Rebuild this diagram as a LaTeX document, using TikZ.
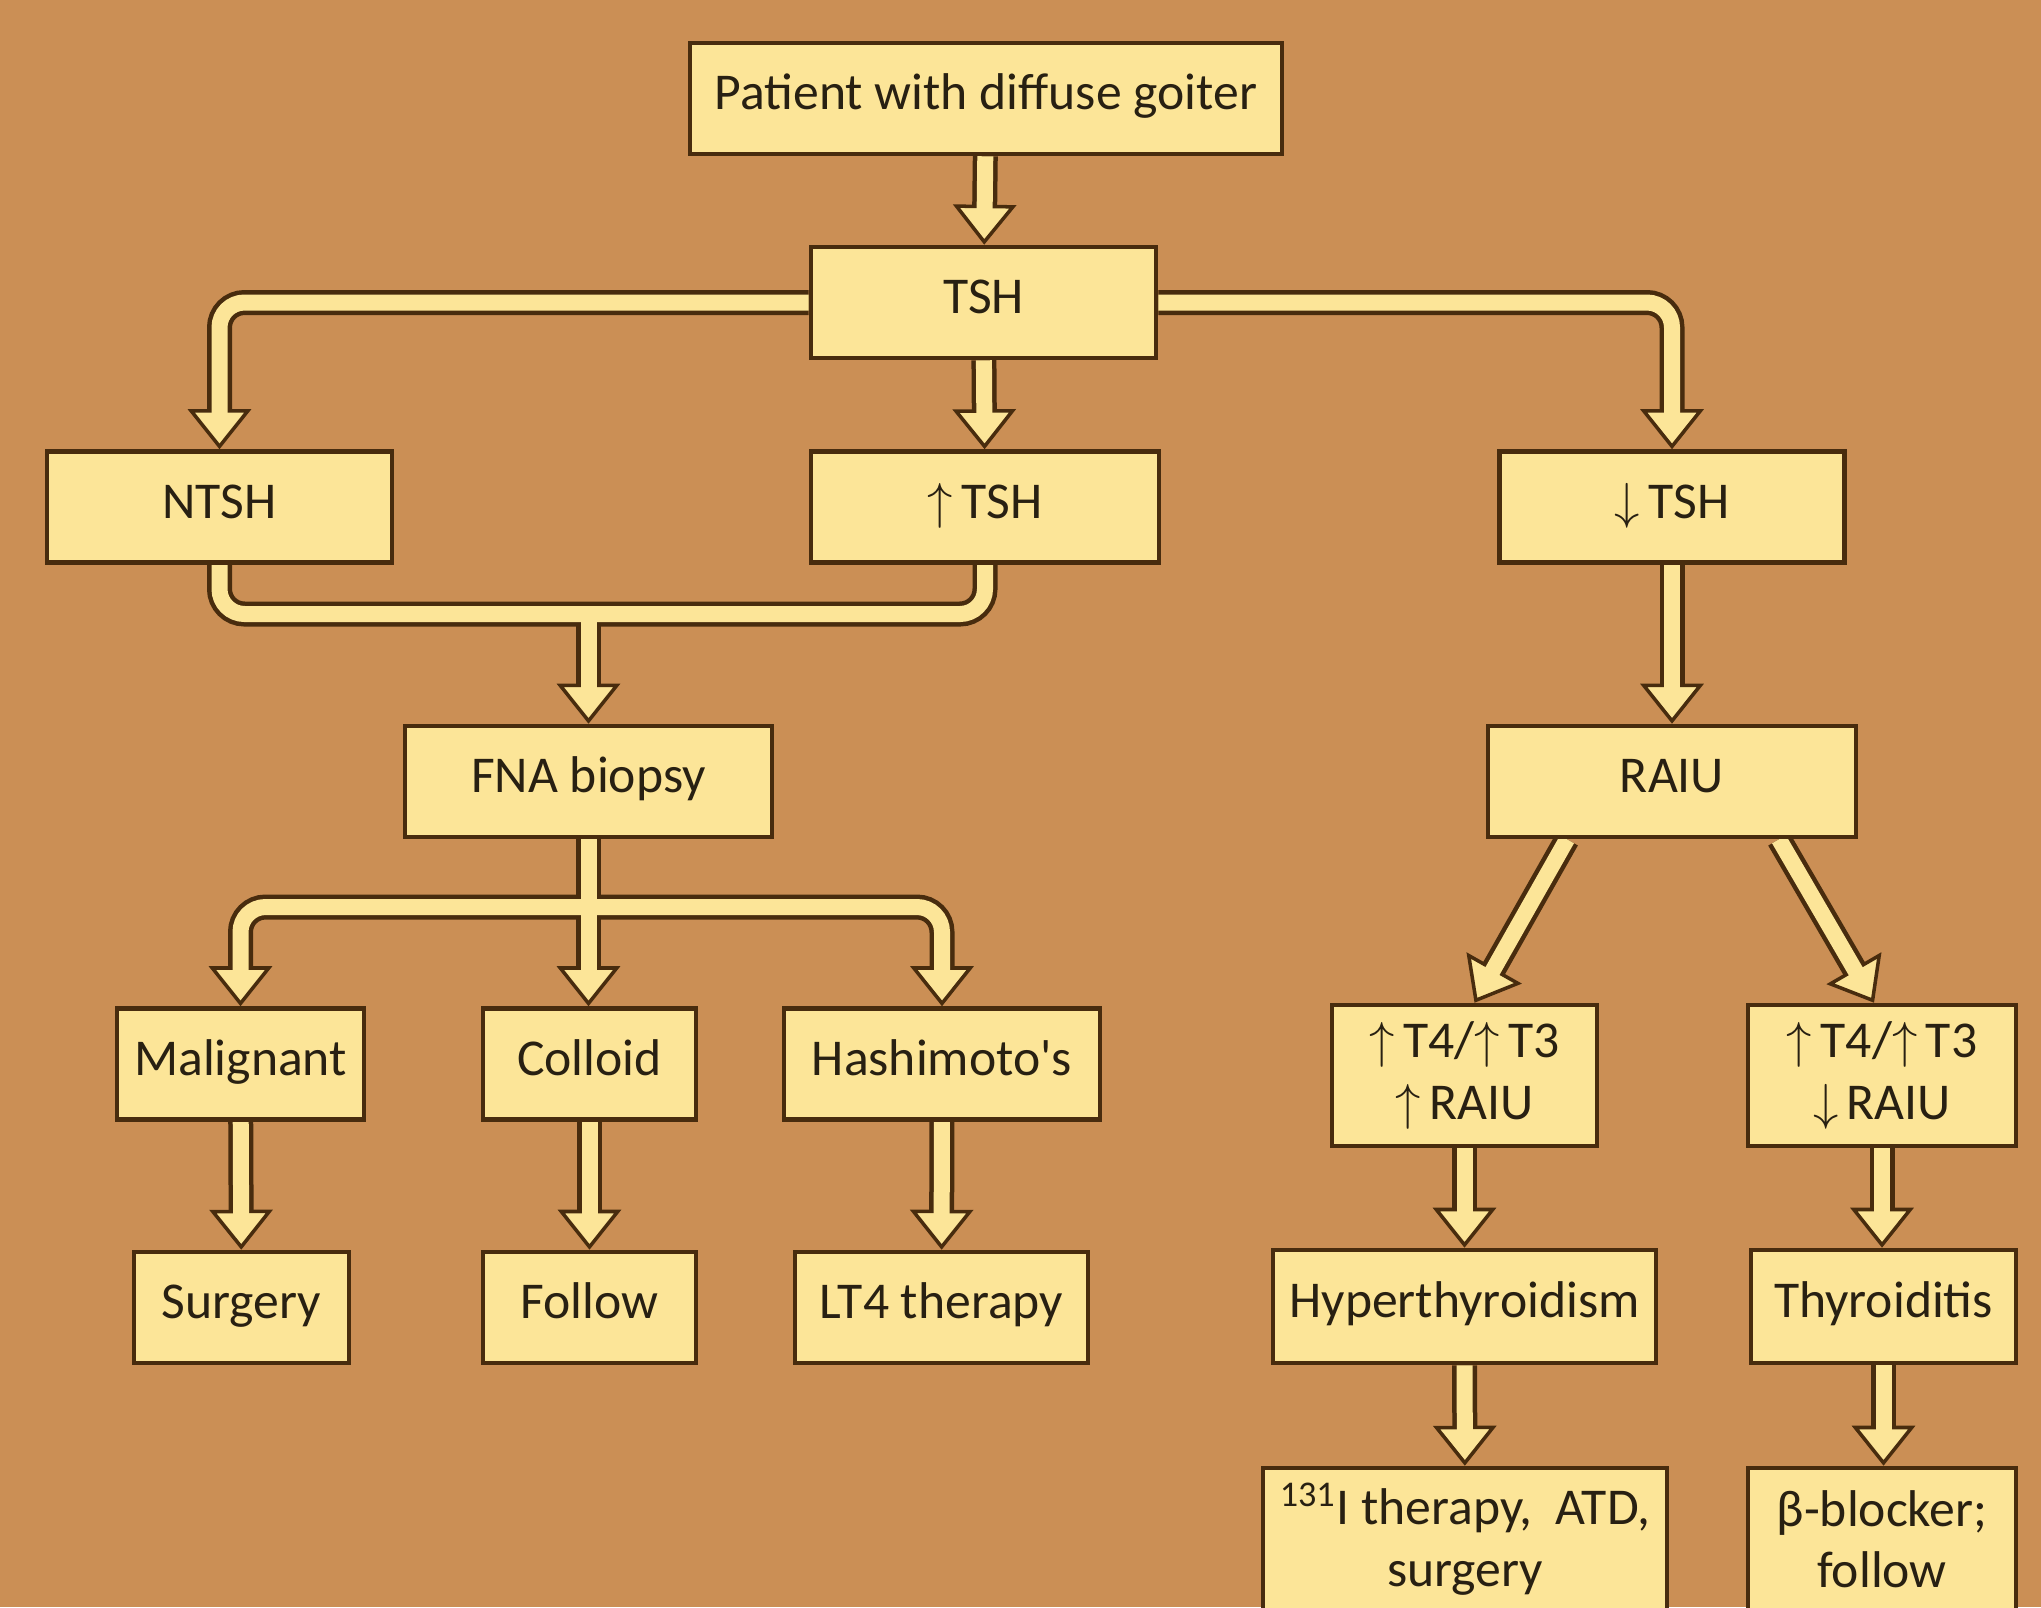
\documentclass[tikz,border=0pt]{standalone}
\usepackage{fontspec}
\setmainfont{Carlito}
\usetikzlibrary{positioning,calc,arrows.meta,backgrounds}
\definecolor{bgbrown}{RGB}{203,143,85}
\definecolor{boxfill}{RGB}{252,229,152}
\definecolor{edgebrown}{RGB}{72,44,14}
\definecolor{inkdark}{RGB}{40,32,18}
\tikzset{
  nbox/.style    = {draw=edgebrown, fill=boxfill, line width=1.3pt, inner sep=2pt,
                    align=center, text=inkdark, minimum height=1.11cm,
                    font=\fontsize{14.7}{17.5}\selectfont},
  sbox/.style    = {nbox, text height=0.75em, text depth=0.1em},
  pipeout/.style = {draw=edgebrown, line width=2.5mm, rounded corners=2.5mm},
  pipein/.style  = {draw=boxfill, line width=1.6mm, rounded corners=2.5mm},
  head/.style    = {-{Triangle[width=6.3mm, length=4mm, fill=boxfill,
                    color=edgebrown, line width=1pt]}},
  headgap/.style = {shorten >=3.4mm},
}
\begin{document}
\begin{tikzpicture}
  \useasboundingbox (0,0) rectangle (20.41,-16.07);
  \begin{scope}[on background layer]
    \fill[bgbrown] (0,0) rectangle (20.41,-16.07);
  \end{scope}
  % top of the tree
  \node[sbox, minimum width=5.92cm] (pat) at (9.86,-0.985) {Patient with diffuse goiter};
  \node[sbox, minimum width=3.45cm] (tsh) at (9.835,-3.025) {TSH};
  \node[sbox, minimum width=3.45cm] (ntsh) at (2.195,-5.07) {NTSH};
  \node[sbox, minimum width=3.48cm] (hitsh) at (9.85,-5.07) {$\uparrow$\,TSH};
  \node[sbox, minimum width=3.45cm] (lotsh) at (16.72,-5.07) {$\downarrow$\,TSH};
  \node[sbox, minimum width=3.67cm] (fna) at (5.885,-7.815) {FNA biopsy};
  \node[sbox, minimum width=3.68cm] (raiu) at (16.72,-7.815) {RAIU};
  % biopsy side
  \node[sbox, minimum width=2.47cm] (malig) at (2.405,-10.64) {Malignant};
  \node[sbox, minimum width=2.13cm] (colloid) at (5.895,-10.64) {Colloid};
  \node[sbox, minimum width=3.16cm] (hashi) at (9.42,-10.64) {Hashimoto\textquotesingle s};
  \node[sbox, minimum width=2.15cm] (surg) at (2.415,-13.075) {Surgery};
  \node[sbox, minimum width=2.13cm] (follow) at (5.895,-13.075) {Follow};
  \node[sbox, minimum width=2.93cm] (lt4) at (9.415,-13.075) {LT4 therapy};
  % uptake side
  \node[nbox, minimum width=2.65cm, minimum height=1.41cm] (hiraiu) at (14.645,-10.755)
    {$\uparrow$\,T4/$\uparrow$\,T3\\$\uparrow$\,RAIU};
  \node[nbox, minimum width=2.68cm, minimum height=1.41cm] (loraiu) at (18.82,-10.755)
    {$\uparrow$\,T4/$\uparrow$\,T3\\$\downarrow$\,RAIU};
  \node[sbox, minimum width=3.83cm, minimum height=1.13cm] (hyper) at (14.645,-13.065) {Hyperthyroidism};
  \node[sbox, minimum width=2.65cm, minimum height=1.13cm] (thyr) at (18.835,-13.065) {Thyroiditis};
  \node[nbox, minimum width=4.04cm, minimum height=1.42cm] (rxi) at (14.65,-15.39)
    {\textsuperscript{131}I therapy,\ \ ATD,\\surgery};
  \node[nbox, minimum width=2.68cm, minimum height=1.42cm] (bblock) at (18.82,-15.39)
    {β-blocker;\\follow};
  % junction points
  \coordinate (mrg) at (fna.north |- 0,-6.14);
  \coordinate (split) at (fna.south |- 0,-9.07);
  % pipes: outlines first, then the fill
  \begin{scope}[on background layer]
  \foreach \pass/\tip in {pipeout/head, pipein/headgap}{
    \draw[\pass,\tip] (pat) -- (tsh);
    \draw[\pass,\tip] (tsh.west) -| (ntsh.north);
    \draw[\pass,\tip] (tsh) -- (hitsh);
    \draw[\pass,\tip] (tsh.east) -| (lotsh.north);
    \draw[\pass] (ntsh.south) |- (mrg) -| (hitsh.south);
    \draw[\pass,\tip] (mrg) -- (fna.north);
    \draw[\pass,\tip] (lotsh) -- (raiu);
    \draw[\pass,\tip] (fna.south) -- (fna.south |- colloid.north);
    \draw[\pass,\tip] (split) -| (malig.north);
    \draw[\pass,\tip] (split) -| (hashi.north);
    \draw[\pass,\tip] (malig) -- (surg);
    \draw[\pass,\tip] (colloid) -- (follow);
    \draw[\pass,\tip] (hashi) -- (lt4);
    \draw[\pass,\tip] ($(raiu.south)+(-1.05,0)$) -- ($(hiraiu.north)+(0.1,0)$);
    \draw[\pass,\tip] ($(raiu.south)+(1.07,0)$) -- ($(loraiu.north)+(-0.08,0)$);
    \draw[\pass,\tip] (hiraiu) -- (hyper);
    \draw[\pass,\tip] (hyper) -- (rxi);
    \draw[\pass,\tip] (loraiu) -- (loraiu |- thyr.north);
    \draw[\pass,\tip] (thyr) -- (thyr |- bblock.north);
  }
  \end{scope}
\end{tikzpicture}
\end{document}
